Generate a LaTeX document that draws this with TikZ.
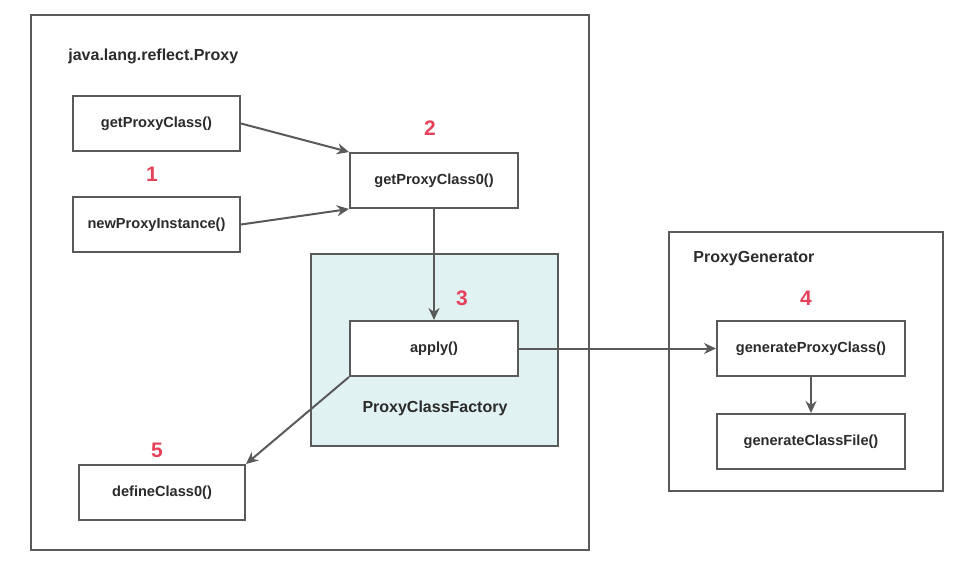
\documentclass[tikz,border=0pt]{standalone}
\usepackage{fontspec}
\setmainfont{Liberation Sans}
\usetikzlibrary{arrows.meta,positioning}
\definecolor{linegray}{HTML}{5A5A5A}
\definecolor{textgray}{HTML}{2B2B2B}
\definecolor{stepred}{HTML}{E5415A}
\definecolor{factoryfill}{HTML}{E0F2F1}
\tikzset{
  frame/.style   = {draw=linegray, line width=1pt, rectangle},
  method/.style  = {frame, fill=white, minimum height=27.5pt, inner sep=0pt,
                    font=\fontsize{7.3}{9}\selectfont\bfseries, text=textgray},
  caption/.style = {font=\fontsize{8}{10}\selectfont\bfseries, text=textgray, inner sep=0pt},
  stepno/.style  = {font=\fontsize{10.5}{12}\selectfont\bfseries, text=stepred, inner sep=0pt},
  call/.style    = {draw=linegray, line width=1pt, -{Stealth[length=6pt,width=5.5pt]}}
}
\begin{document}
\begin{tikzpicture}[x=0.5pt, y=-0.5pt]
\useasboundingbox (0,0) rectangle (979,578);

% containers
\node[frame, minimum width=279pt, minimum height=267.5pt] (proxy) at (310,282.5) {};
\node[frame, fill=factoryfill, minimum width=123.5pt, minimum height=96pt] (factory) at (434.5,350) {};
\node[frame, minimum width=137pt, minimum height=129.5pt] (generator) at (806,361.5) {};

\node[caption, anchor=west] (proxytitle) at (68,56) {java.lang.reflect.Proxy};
\node[caption] (factorytitle) at (435,408) {ProxyClassFactory};
\node[caption, anchor=west] (generatortitle) at (693,259) {ProxyGenerator};

% methods
\node[method, minimum width=83.5pt] (gpc) at (156.5,123.5) {getProxyClass()};
\node[method, minimum width=83.5pt] (npi) at (156.5,224.5) {newProxyInstance()};
\node[method, minimum width=84pt] (gpc0) at (434,180.5) {getProxyClass0()};
\node[method, minimum width=84pt] (apply) at (434,348.5) {apply()};
\node[method, minimum width=83pt] (def0) at (162,492.5) {defineClass0()};
\node[method, minimum width=94pt] (genpc) at (811,348.5) {generateProxyClass()};
\node[method, minimum width=94pt] (gencf) at (811,441.5) {generateClassFile()};

% step numbers
\node[stepno] (s1) at (152,174) {1};
\node[stepno] (s2) at (430,128) {2};
\node[stepno] (s3) at (462,298) {3};
\node[stepno] (s4) at (806,298) {4};
\node[stepno] (s5) at (157,450) {5};

% calls
\draw[call] (gpc.east) -- (gpc0.north west);
\draw[call] (npi.east) -- (gpc0.south west);
\draw[call] (gpc0.south) -- (apply.north);
\draw[call] (apply.east) -- (genpc.west);
\draw[call] (apply.south west) -- (def0.north east);
\draw[call] (genpc.south) -- (gencf.north);
\end{tikzpicture}
\end{document}
